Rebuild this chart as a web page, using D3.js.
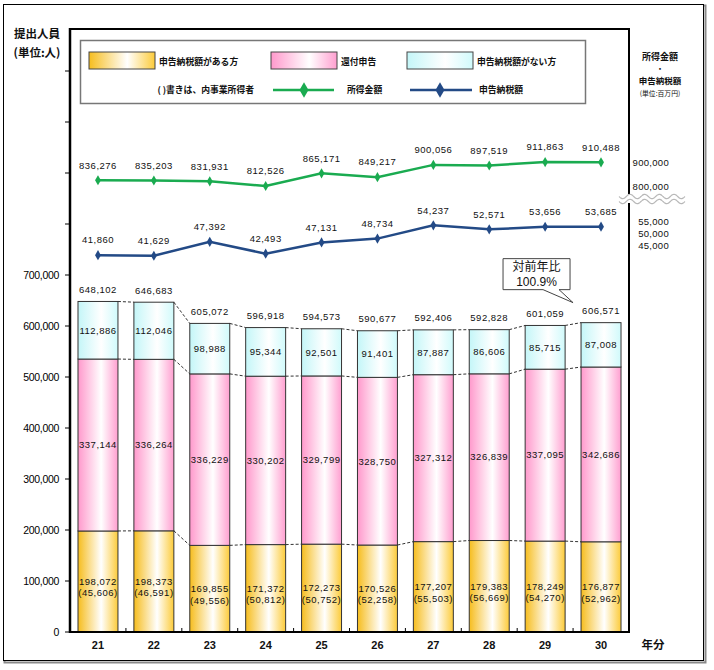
<!DOCTYPE html>
<html><head><meta charset="utf-8">
<script src="https://cdn.jsdelivr.net/npm/d3@7"></script>
<style>body{margin:0;background:#fff}svg{display:block}</style>
</head><body>
<script>
const years = ["21","22","23","24","25","26","27","28","29","30"];
const withTax = [198072,198373,169855,171372,172273,170526,177207,179383,178249,176877];
const business = [45606,46591,49556,50812,50752,52258,55503,56669,54270,52962];
const refund = [337144,336264,336229,330202,329799,328750,327312,326839,337095,342686];
const noTax = [112886,112046,98988,95344,92501,91401,87887,86606,85715,87008];
const totals = [648102,646683,605072,596918,594573,590677,592406,592828,601059,606571];
const income = [836276,835203,831931,812526,865171,849217,900056,897519,911863,910488];
const taxAmt = [41860,41629,47392,42493,47131,48734,54237,52571,53656,53685];
const leftTicks = [0,100000,200000,300000,400000,500000,600000,700000];
const extraTicks = [800000,900000,1000000,1100000];
const incomeTicks = [900000,800000];
const taxTicks = [55000,50000,45000];

const W=714,H=670;
const svg=d3.select("body").append("svg").attr("width",W).attr("height",H);
const defs=svg.append("defs");
function grad(id,c1,c2){
  const g=defs.append("linearGradient").attr("id",id).attr("x1",0).attr("x2",1).attr("y1",0).attr("y2",0);
  g.append("stop").attr("offset",0).attr("stop-color",c1);
  g.append("stop").attr("offset",0.58).attr("stop-color","#ffffff");
  g.append("stop").attr("offset",1).attr("stop-color",c2);
}
grad("gy","#f6bd1e","#fccb3a");
grad("gp","#ff99cc","#ff9fd0");
grad("gc","#c4f6f8","#d0fafb");

// outer frame
svg.append("rect").attr("x",4.5).attr("y",5.5).attr("width",701).attr("height",657).attr("fill","none").attr("stroke","#8a8a8a").attr("stroke-width",2);
svg.append("rect").attr("x",3.5).attr("y",4.5).attr("width",700).attr("height",656).attr("fill","#fff").attr("stroke","#000").attr("stroke-width",1);

const L=70,R=629,T=29,B=632;
const x=d3.scaleBand().domain(years).range([L,R]).paddingInner(0.285).paddingOuter(0.143);
const y=d3.scaleLinear().domain([0,(B-T)/51*100000]).range([B,T]);
const yInc=d3.scaleLinear().domain([800000,900000]).range([189.0,164.9]);
const yTax=d3.scaleLinear().domain([45000,55000]).range([247.6,223.5]);
const bw=x.bandwidth();

const numFont="'Liberation Sans',Arial,sans-serif";
const jpFont="'Noto Sans CJK JP','Noto Sans',sans-serif";

// left axis ticks & labels
const ax=svg.append("g");
ax.selectAll("line.t").data(leftTicks.concat(extraTicks)).join("line")
  .attr("x1",L-5).attr("x2",L).attr("y1",d=>y(d)).attr("y2",d=>y(d)).attr("stroke","#000").attr("stroke-width",1);
ax.selectAll("text").data(leftTicks).join("text")
  .attr("x",59).attr("y",d=>y(d)).attr("dy","0.35em").attr("text-anchor","end")
  .attr("font-family",numFont).attr("font-size",10.5).attr("letter-spacing",-0.3).attr("fill","#000")
  .text(d=>d3.format(",")(d));

// bottom small ticks at band boundaries
const bounds=years.slice(1).map(d=>x(d)-x.step()*x.paddingInner()/2);
svg.selectAll("line.bt").data(bounds).join("line")
  .attr("x1",d=>d).attr("x2",d=>d).attr("y1",B).attr("y2",B-4).attr("stroke","#000");

// bars
const segs=[];
years.forEach((yr,i)=>{
  segs.push({yr,y0:0,y1:withTax[i],f:"url(#gy)"});
  segs.push({yr,y0:withTax[i],y1:withTax[i]+refund[i],f:"url(#gp)"});
  segs.push({yr,y0:withTax[i]+refund[i],y1:totals[i],f:"url(#gc)"});
});
svg.append("g").selectAll("rect").data(segs).join("rect")
  .attr("x",d=>x(d.yr)).attr("width",bw).attr("y",d=>y(d.y1)).attr("height",d=>y(d.y0)-y(d.y1))
  .attr("fill",d=>d.f).attr("stroke","#333").attr("stroke-width",1);

// dashed connectors
const conn=[];
for(let i=0;i<years.length-1;i++){
  [[withTax[i],withTax[i+1]],[withTax[i]+refund[i],withTax[i+1]+refund[i+1]],[totals[i],totals[i+1]]].forEach(p=>{
    conn.push({x1:x(years[i])+bw,x2:x(years[i+1]),y1:y(p[0]),y2:y(p[1])});
  });
}
svg.append("g").selectAll("line").data(conn).join("line")
  .attr("x1",d=>d.x1).attr("x2",d=>d.x2).attr("y1",d=>d.y1).attr("y2",d=>d.y2)
  .attr("stroke","#333").attr("stroke-width",1).attr("stroke-dasharray","3,2");

const fmt=d3.format(",");
const lbl=(g)=>g.attr("text-anchor","middle").attr("font-family",numFont).attr("font-size",9.5).attr("letter-spacing",0.5).attr("fill","#111");
// segment labels
svg.append("g").selectAll("text").data(years).join("text").call(lbl)
  .attr("x",d=>x(d)+bw/2).attr("y",(d,i)=>y(withTax[i]+refund[i]+noTax[i]/2)).attr("dy","0.35em").text((d,i)=>fmt(noTax[i]));
svg.append("g").selectAll("text").data(years).join("text").call(lbl)
  .attr("x",d=>x(d)+bw/2).attr("y",(d,i)=>y(withTax[i]+refund[i]/2)).attr("dy","0.35em").text((d,i)=>fmt(refund[i]));
svg.append("g").selectAll("text").data(years).join("text").call(lbl)
  .attr("x",d=>x(d)+bw/2).attr("y",(d,i)=>y(withTax[i]/2)).attr("dy","0.35em").text((d,i)=>fmt(withTax[i]));
svg.append("g").selectAll("text").data(years).join("text").call(lbl)
  .attr("x",d=>x(d)+bw/2).attr("y",(d,i)=>y(withTax[i]/2)+11.5).attr("dy","0.35em").text((d,i)=>"("+fmt(business[i])+")");
svg.append("g").selectAll("text").data(years).join("text").call(lbl)
  .attr("x",d=>x(d)+bw/2).attr("y",(d,i)=>y(totals[i])-12).attr("dy","0.35em").text((d,i)=>fmt(totals[i]));

// x labels
svg.append("g").selectAll("text").data(years).join("text")
  .attr("x",d=>x(d)+bw/2).attr("y",645).attr("dy","0.35em").attr("text-anchor","middle")
  .attr("font-family",numFont).attr("font-size",11).attr("font-weight","bold").attr("fill","#111").text(d=>d);
svg.append("text").attr("x",653).attr("y",645).attr("dy","0.35em").attr("text-anchor","middle")
  .attr("font-family",jpFont).attr("font-size",11.5).attr("font-weight","bold").attr("fill","#111").text("年分");

// plot frame
svg.append("line").attr("x1",L).attr("x2",R+1).attr("y1",T).attr("y2",T).attr("stroke","#000").attr("stroke-width",2);
svg.append("line").attr("x1",R).attr("x2",R).attr("y1",T).attr("y2",B+1).attr("stroke","#000").attr("stroke-width",2);
svg.append("line").attr("x1",L).attr("x2",L).attr("y1",T-1).attr("y2",B+1).attr("stroke","#000").attr("stroke-width",2.5);
svg.append("line").attr("x1",L).attr("x2",R+1).attr("y1",B).attr("y2",B).attr("stroke","#000").attr("stroke-width",2);

// lines
const cx=d=>x(d)+bw/2;
function series(vals,sc,color){
  const pts=years.map((d,i)=>[cx(d),sc(vals[i])]);
  svg.append("path").attr("d",d3.line()(pts)).attr("fill","none").attr("stroke",color).attr("stroke-width",2.5);
  svg.append("g").selectAll("path").data(pts).join("path")
    .attr("d",d3.symbol(d3.symbolDiamond,30)()).attr("transform",p=>`translate(${p[0]},${p[1]})`).attr("fill",color);
  svg.append("g").selectAll("text").data(years).join("text").call(lbl)
    .attr("x",d=>cx(d)).attr("y",(d,i)=>sc(vals[i])-15).attr("dy","0.35em").text((d,i)=>fmt(vals[i]));
}
series(income,yInc,"#1aab50");
series(taxAmt,yTax,"#234a86");

// right axis labels and break
const rg=svg.append("g").attr("font-family",numFont).attr("font-size",9.5).attr("letter-spacing",0.3).attr("fill","#111").attr("text-anchor","end");
rg.selectAll("text.i").data(incomeTicks).join("text").attr("x",669).attr("y",d=>yInc(d)+1).text(d=>fmt(d));
rg.selectAll("text.t").data(taxTicks).join("text").attr("x",669).attr("y",d=>yTax(d)+1).text(d=>fmt(d));
svg.append("rect").attr("x",618).attr("y",194).attr("width",68).attr("height",9).attr("fill","#fff");
const wave=d3.range(0,67,1).map(t=>[619+t,Math.sin(t/66*Math.PI*2*4.5)*2.2]);
[196.5,201.5].forEach(yy=>{
  svg.append("path").attr("d",d3.line().curve(d3.curveBasis)(wave.map(p=>[p[0],p[1]+yy]))).attr("fill","none").attr("stroke","#b8b8b8").attr("stroke-width",1.2);
});

// titles
const tt=svg.append("g").attr("font-family",jpFont).attr("fill","#111").attr("text-anchor","middle");
tt.append("text").attr("x",37).attr("y",34).attr("dy","0.35em").attr("font-size",11.5).attr("font-weight","bold").text("提出人員");
tt.append("text").attr("x",37).attr("y",53).attr("dy","0.35em").attr("font-size",11.5).attr("font-weight","bold").text("(単位:人)");
tt.append("text").attr("x",660).attr("y",57).attr("dy","0.35em").attr("font-size",9).attr("font-weight","bold").text("所得金額");
tt.append("text").attr("x",660).attr("y",69).attr("dy","0.35em").attr("font-size",8.5).text("・");
tt.append("text").attr("x",660).attr("y",81.5).attr("dy","0.35em").attr("font-size",8.5).attr("font-weight","bold").text("申告納税額");
tt.append("text").attr("x",660).attr("y",93.5).attr("dy","0.35em").attr("font-size",6.8).text("(単位:百万円)");

// legend
const lg=svg.append("g").attr("font-family",jpFont).attr("font-size",8.8).attr("font-weight","bold").attr("fill","#111");
lg.append("rect").attr("x",80.5).attr("y",40.5).attr("width",505).attr("height",63).attr("fill","#fff").attr("stroke","#777").attr("stroke-width",1.5);
const sw=[["url(#gy)",89,"申告納税額がある方"],["url(#gp)",271,"還付申告"],["url(#gc)",407,"申告納税額がない方"]];
sw.forEach(s=>{
  lg.append("rect").attr("x",s[1]).attr("y",52).attr("width",66).attr("height",17).attr("fill",s[0]).attr("stroke","#444");
  lg.append("text").attr("x",s[1]+70).attr("y",62).attr("dy","0.35em").text(s[2]);
});
lg.append("text").attr("x",254).attr("y",90).attr("dy","0.35em").attr("text-anchor","end").text("( )書きは、内事業所得者");
[[273,334,304,"#1aab50","所得金額",347],[410,472,440,"#234a86","申告納税額",479]].forEach(s=>{
  lg.append("line").attr("x1",s[0]).attr("x2",s[1]).attr("y1",90).attr("y2",90).attr("stroke",s[3]).attr("stroke-width",2.5);
  lg.append("path").attr("d",d3.symbol(d3.symbolDiamond,70)()).attr("transform",`translate(${s[2]},90)`).attr("fill",s[3]);
  lg.append("text").attr("x",s[5]).attr("y",90).attr("dy","0.35em").text(s[4]);
});

// callout
const tipX=x("30")-8, tipY=y(totals[9])-20;
const cb=svg.append("g");
cb.append("path").attr("d",`M${tipX-70},${tipY-44}H${tipX-3}V${tipY-13}H${tipX-14}L${tipX},${tipY}L${tipX-30},${tipY-13}H${tipX-70}Z`)
  .attr("fill","#fff").attr("stroke","#444").attr("stroke-width",1);
cb.append("text").attr("x",tipX-36.5).attr("y",tipY-36).attr("dy","0.35em").attr("text-anchor","middle").attr("font-family",jpFont).attr("font-size",12).attr("fill","#111").text("対前年比");
cb.append("text").attr("x",tipX-36.5).attr("y",tipY-21).attr("dy","0.35em").attr("text-anchor","middle").attr("font-family",numFont).attr("font-size",12).attr("fill","#111").text("100.9%");
</script>
</body></html>
